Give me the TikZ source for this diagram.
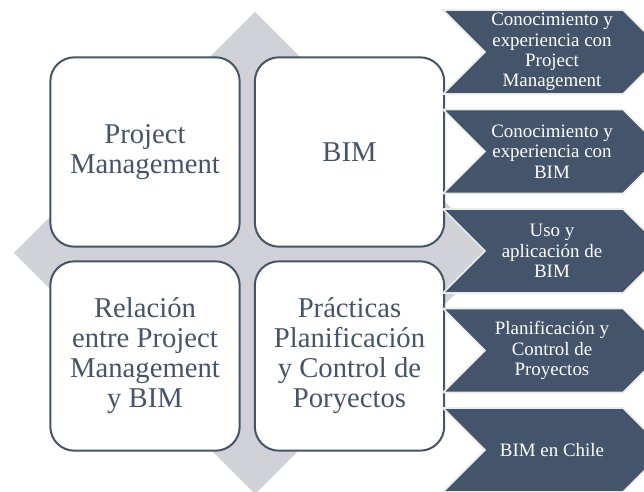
\documentclass[tikz,border=0pt]{standalone}
\usepackage{fontspec}
\setmainfont{Liberation Serif}
\newfontfamily\quadfont{Liberation Serif}
\definecolor{slate}{HTML}{44546A}
\definecolor{diamondgray}{HTML}{D0D2D7}
\tikzset{
  quad/.style={draw=slate, line width=1.5pt, fill=white, rounded corners=18pt,
    minimum width=142pt, minimum height=142pt, inner sep=2pt, text=slate, align=center,
    font=\quadfont\fontsize{21.5}{22.5}\selectfont},
  chevtext/.style={text=white, align=center, inner sep=0pt,
    font=\quadfont\fontsize{14.2}{15.2}\selectfont},
  chev/.style={fill=slate, draw=black!8, line width=1.2pt, line join=miter}
}
\begin{document}
\begin{tikzpicture}[x=0.75pt, y=-0.75pt]
  \useasboundingbox (0,0) rectangle (644,492);
  \clip (0,0) rectangle (644,492);
  % diamond behind the four quadrants
  \fill[diamondgray] (255,12) -- (496,253) -- (255,494) -- (14,253) -- cycle;
  % quadrants
  \node[quad] (pm)  at (145,152)   {Project\\Management};
  \node[quad] (bim) at (349.5,152) {BIM};
  \node[quad] (rel) at (145,356)   {Relación\\entre Project\\Management\\y BIM};
  \node[quad] (prc) at (349.5,356) {Prácticas\\Planificación\\y Control de\\Poryectos};
  % chevrons on the right
  \foreach \yt/\lbl [count=\i] in {
      10/{Conocimiento y\\experiencia con\\Project\\Management},
      109.5/{Conocimiento y\\experiencia con\\BIM},
      209/{Uso y\\aplicación de\\BIM},
      308.5/{Planificación y\\Control de\\Proyectos},
      408/{BIM en Chile}}
  {
    \filldraw[chev] (443,\yt) -- (623,\yt) -- (665,\yt+42) -- (623,\yt+84)
      -- (443,\yt+84) -- (485,\yt+42) -- cycle;
    \node[chevtext] (ch\i) at (552,\yt+42) {\lbl};
  }
\end{tikzpicture}
\end{document}
